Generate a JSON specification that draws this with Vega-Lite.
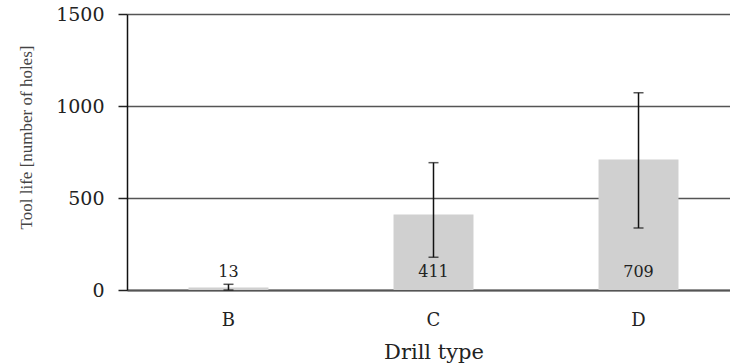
{
  "$schema": "https://vega.github.io/schema/vega-lite/v6.json",
  "autosize": "none",
  "width": 603,
  "height": 276,
  "padding": {"left": 127, "top": 14, "right": 0, "bottom": 74},
  "background": "white",
  "config": {
    "view": {"stroke": null},
    "font": "DejaVu Serif"
  },
  "data": {
    "values": [
      {"drill": "B", "life": 13, "low": 0, "high": 31},
      {"drill": "C", "life": 411, "low": 178, "high": 692},
      {"drill": "D", "life": 709, "low": 337, "high": 1072}
    ]
  },
  "encoding": {
    "x": {
      "field": "drill",
      "type": "nominal",
      "scale": {"range": [0, 613], "paddingInner": 0.61, "paddingOuter": 0.3},
      "axis": {
        "title": "Drill type",
        "titleFont": "DejaVu Serif",
        "titleFontSize": 21,
        "titleFontWeight": "normal",
        "titleColor": "#222",
        "titlePadding": 12,
        "labelAngle": 0,
        "labelFont": "DejaVu Serif",
        "labelFontSize": 18,
        "labelColor": "#222",
        "labelPadding": 21,
        "ticks": false,
        "domainColor": "#555",
        "domainWidth": 2,
        "grid": false
      }
    }
  },
  "layer": [
    {
      "mark": {"type": "bar", "color": "#d0d0d0"},
      "encoding": {
        "y": {
          "field": "life",
          "type": "quantitative",
          "scale": {"domain": [0, 1500], "nice": false},
          "axis": {
            "title": "Tool life [number of holes]",
            "titleFont": "Liberation Serif",
            "titleFontSize": 17,
            "titleFontWeight": "normal",
            "titleColor": "#444",
            "titlePadding": 20,
            "titleY": 123,
            "values": [0, 500, 1000, 1500],
            "format": "d",
            "labelFont": "DejaVu Serif",
            "labelFontSize": 19,
            "labelColor": "#222",
            "labelPadding": 14,
            "tickSize": 9,
            "tickColor": "#222",
            "tickWidth": 1.5,
            "domainColor": "#111",
            "domainWidth": 1.5,
            "grid": true,
            "gridColor": "#555",
            "gridWidth": 1.6
          }
        }
      }
    },
    {
      "mark": {"type": "rule", "color": "#111", "strokeWidth": 1.5},
      "encoding": {
        "y": {"field": "low", "type": "quantitative"},
        "y2": {"field": "high"}
      }
    },
    {
      "mark": {"type": "tick", "color": "#111", "thickness": 1.5, "size": 10},
      "encoding": {"y": {"field": "low", "type": "quantitative"}}
    },
    {
      "mark": {"type": "tick", "color": "#111", "thickness": 1.5, "size": 10},
      "encoding": {"y": {"field": "high", "type": "quantitative"}}
    },
    {
      "mark": {"type": "text", "font": "DejaVu Serif", "fontSize": 16, "color": "#222", "dy": -18},
      "encoding": {
        "y": {"datum": 0},
        "text": {"field": "life", "type": "quantitative"}
      }
    }
  ]
}
